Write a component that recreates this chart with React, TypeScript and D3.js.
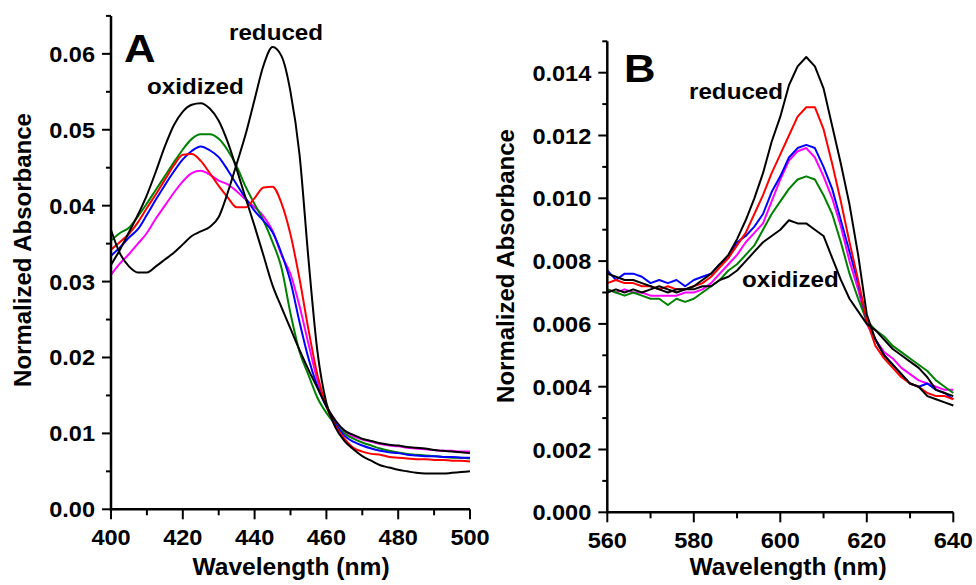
import React from 'react';
import * as d3 from 'd3';

// ---------- Panel A data (Soret region) ----------
const wavelengthA = [400, 402.5, 405, 407.5, 410, 412.5, 415, 417.5, 420, 422.5, 425, 427.5, 430, 432.5, 435, 437.5, 440, 442.5, 445, 447.5, 450, 452.5, 455, 457.5, 460, 462.5, 465, 467.5, 470, 472.5, 475, 477.5, 480, 482.5, 485, 487.5, 490, 492.5, 495, 497.5, 500];

const oxidizedA = [0.0322, 0.0342, 0.0365, 0.0388, 0.0414, 0.0445, 0.0478, 0.0506, 0.0524, 0.0533, 0.0535, 0.0528, 0.0512, 0.0484, 0.0448, 0.0410, 0.0373, 0.0334, 0.0295, 0.0266, 0.0238, 0.0210, 0.0184, 0.0160, 0.0136, 0.0117, 0.0104, 0.0098, 0.0093, 0.0090, 0.0087, 0.0085, 0.0084, 0.0082, 0.0081, 0.0080, 0.0078, 0.0077, 0.0076, 0.0075, 0.0074];
const reducedA = [0.0368, 0.0337, 0.0320, 0.0312, 0.0312, 0.0320, 0.0329, 0.0338, 0.0349, 0.0360, 0.0366, 0.0372, 0.0385, 0.0417, 0.0455, 0.0494, 0.0540, 0.0585, 0.0609, 0.0597, 0.0550, 0.0468, 0.0330, 0.0208, 0.0140, 0.0108, 0.0090, 0.0079, 0.0070, 0.0064, 0.0058, 0.0055, 0.0052, 0.0050, 0.0048, 0.0047, 0.0047, 0.0047, 0.0048, 0.0049, 0.0050];
const redA = [0.0342, 0.0352, 0.0363, 0.0378, 0.0397, 0.0415, 0.0434, 0.0453, 0.0467, 0.0468, 0.0459, 0.0443, 0.0426, 0.0411, 0.0398, 0.0398, 0.0410, 0.0424, 0.0425, 0.0403, 0.0362, 0.0304, 0.0237, 0.0177, 0.0136, 0.0110, 0.0093, 0.0081, 0.0076, 0.0073, 0.0072, 0.0069, 0.0068, 0.0067, 0.0066, 0.0066, 0.0065, 0.0065, 0.0064, 0.0064, 0.0063];
const greenA = [0.0354, 0.0364, 0.0371, 0.0386, 0.0403, 0.0421, 0.0439, 0.0457, 0.0474, 0.0488, 0.0494, 0.0494, 0.0488, 0.0473, 0.0452, 0.0425, 0.0402, 0.0380, 0.0352, 0.0318, 0.0258, 0.0208, 0.0177, 0.0147, 0.0127, 0.0112, 0.0100, 0.0093, 0.0088, 0.0084, 0.0080, 0.0077, 0.0075, 0.0073, 0.0072, 0.0071, 0.0070, 0.0069, 0.0068, 0.0068, 0.0067];
const blueA = [0.0334, 0.0345, 0.0358, 0.0369, 0.0388, 0.0408, 0.0427, 0.0445, 0.0461, 0.0472, 0.0478, 0.0473, 0.0464, 0.0447, 0.0428, 0.0410, 0.0393, 0.0380, 0.0365, 0.0337, 0.0300, 0.0247, 0.0199, 0.0162, 0.0135, 0.0113, 0.0097, 0.0089, 0.0084, 0.0080, 0.0077, 0.0075, 0.0074, 0.0072, 0.0071, 0.0070, 0.0070, 0.0069, 0.0069, 0.0068, 0.0068];
const magentaA = [0.0309, 0.0324, 0.0336, 0.0350, 0.0364, 0.0383, 0.0400, 0.0417, 0.0432, 0.0443, 0.0446, 0.0441, 0.0433, 0.0428, 0.0419, 0.0408, 0.0398, 0.0386, 0.0367, 0.0335, 0.0310, 0.0268, 0.0218, 0.0170, 0.0136, 0.0117, 0.0103, 0.0096, 0.0092, 0.0089, 0.0086, 0.0084, 0.0083, 0.0081, 0.0080, 0.0079, 0.0078, 0.0077, 0.0077, 0.0076, 0.0076];

// ---------- Panel B data (alpha region) ----------
const wavelengthB = [560, 562, 564, 566, 568, 570, 572, 574, 576, 578, 580, 582, 584, 586, 588, 590, 592, 594, 596, 598, 600, 602, 604, 606, 608, 610, 612, 614, 616, 618, 620, 622, 624, 626, 628, 630, 632, 634, 636, 638, 640];

const reducedB = [0.0076, 0.0075, 0.0074, 0.0074, 0.0073, 0.0072, 0.0071, 0.0070, 0.0071, 0.0071, 0.0072, 0.0074, 0.0076, 0.0079, 0.0082, 0.0087, 0.0093, 0.0100, 0.0108, 0.0118, 0.0126, 0.0136, 0.0142, 0.0145, 0.0142, 0.0135, 0.0123, 0.0111, 0.0098, 0.0082, 0.0063, 0.0055, 0.0050, 0.0047, 0.0044, 0.0041, 0.0040, 0.0037, 0.0036, 0.0035, 0.0034];
const oxidizedB = [0.0070, 0.0071, 0.0070, 0.0071, 0.0070, 0.0071, 0.0072, 0.0071, 0.0070, 0.0071, 0.0071, 0.0072, 0.0072, 0.0074, 0.0075, 0.0077, 0.0080, 0.0083, 0.0086, 0.0088, 0.0090, 0.0093, 0.0092, 0.0092, 0.0090, 0.0088, 0.0081, 0.0074, 0.0068, 0.0064, 0.0060, 0.0058, 0.0055, 0.0052, 0.0050, 0.0048, 0.0046, 0.0043, 0.0039, 0.0038, 0.0037];
const redB = [0.0073, 0.0074, 0.0073, 0.0073, 0.0072, 0.0072, 0.0071, 0.0072, 0.0071, 0.0071, 0.0072, 0.0073, 0.0075, 0.0078, 0.0081, 0.0085, 0.0089, 0.0095, 0.0101, 0.0108, 0.0114, 0.0120, 0.0126, 0.0129, 0.0129, 0.0122, 0.0111, 0.0099, 0.0086, 0.0074, 0.0061, 0.0053, 0.0049, 0.0046, 0.0043, 0.0041, 0.0040, 0.0038, 0.0037, 0.0037, 0.0036];
const blueB = [0.0077, 0.0074, 0.0076, 0.0076, 0.0075, 0.0073, 0.0074, 0.0073, 0.0074, 0.0072, 0.0074, 0.0075, 0.0076, 0.0079, 0.0081, 0.0086, 0.0088, 0.0091, 0.0095, 0.0102, 0.0107, 0.0113, 0.0116, 0.0117, 0.0116, 0.0110, 0.0103, 0.0093, 0.0083, 0.0073, 0.0061, 0.0055, 0.0050, 0.0047, 0.0044, 0.0041, 0.0040, 0.0041, 0.0039, 0.0038, 0.0036];
const magentaB = [0.0071, 0.0070, 0.0071, 0.0070, 0.0070, 0.0069, 0.0069, 0.0069, 0.0069, 0.0070, 0.0070, 0.0071, 0.0073, 0.0076, 0.0079, 0.0082, 0.0086, 0.0089, 0.0092, 0.0099, 0.0106, 0.0112, 0.0115, 0.0116, 0.0113, 0.0107, 0.0100, 0.0091, 0.0080, 0.0071, 0.0060, 0.0055, 0.0051, 0.0049, 0.0046, 0.0044, 0.0042, 0.0041, 0.0040, 0.0039, 0.0039];
const greenB = [0.0071, 0.0070, 0.0069, 0.0070, 0.0069, 0.0068, 0.0068, 0.0066, 0.0068, 0.0067, 0.0068, 0.0070, 0.0072, 0.0074, 0.0077, 0.0079, 0.0082, 0.0085, 0.0090, 0.0095, 0.0099, 0.0103, 0.0106, 0.0107, 0.0106, 0.0101, 0.0095, 0.0086, 0.0076, 0.0068, 0.0061, 0.0058, 0.0056, 0.0053, 0.0051, 0.0049, 0.0047, 0.0045, 0.0042, 0.0040, 0.0038];

// ---------- Ticks ----------
const xTicksA = [400, 420, 440, 460, 480, 500];
const xMinorA = [410, 430, 450, 470, 490];
const yTicksA = [0, 0.01, 0.02, 0.03, 0.04, 0.05, 0.06];
const yMinorA = [0.005, 0.015, 0.025, 0.035, 0.045, 0.055, 0.065];

const xTicksB = [560, 580, 600, 620, 640];
const xMinorB = [570, 590, 610, 630];
const yTicksB = [0, 0.002, 0.004, 0.006, 0.008, 0.010, 0.012, 0.014];
const yMinorB = [0.001, 0.003, 0.005, 0.007, 0.009, 0.011, 0.013, 0.015];

const FONT = '"Liberation Sans", Arial, Helvetica, sans-serif';

type Series = { values: number[]; color: string };

function T({ x, y, size, anchor = 'start', sx = 1.07, children }: any) {
  return (
    <text
      transform={`translate(${x},${y}) scale(${sx},1)`}
      textAnchor={anchor}
      fontFamily={FONT}
      fontWeight="bold"
      fontSize={size}
      fill="#000"
    >
      {children}
    </text>
  );
}

function Panel(props: any) {
  const {
    wl, series, xDomain, xRange, yDomain, yRange, xTicks, xMinor, yTicks, yMinor, yFmt,
    curve, xTitleX, yTitleX, yTitleY, letter, annotations,
  } = props;
  const x = d3.scaleLinear().domain(xDomain).range(xRange);
  const y = d3.scaleLinear().domain(yDomain).range(yRange);
  const fmt = d3.format(yFmt);
  const line = d3
    .line<number>()
    .x((_, i) => x(wl[i]))
    .y((d) => y(d))
    .curve(curve);
  const x0 = xRange[0];
  const y0 = yRange[0];
  return (
    <g>
      {series.map((s: Series, i: number) => (
        <path key={i} d={line(s.values) || ''} fill="none" stroke={s.color} strokeWidth={2} strokeLinejoin="round" />
      ))}
      {/* axes */}
      <line x1={x0} x2={x0} y1={y0 + 1.2} y2={yRange[1]} stroke="#000" strokeWidth={2.5} />
      <line x1={x0 - 1.2} x2={xRange[1]} y1={y0} y2={y0} stroke="#000" strokeWidth={2.5} />
      {yTicks.map((t: number) => (
        <g key={'yt' + t}>
          <line x1={x0 - 9} x2={x0} y1={y(t)} y2={y(t)} stroke="#000" strokeWidth={2} />
          <T x={x0 - 16} y={y(t) + 8} size={22} anchor="end">{fmt(t)}</T>
        </g>
      ))}
      {yMinor.map((t: number) => (
        <line key={'ym' + t} x1={x0 - 5} x2={x0} y1={y(t)} y2={y(t)} stroke="#000" strokeWidth={2} />
      ))}
      {xTicks.map((t: number) => (
        <g key={'xt' + t}>
          <line x1={x(t)} x2={x(t)} y1={y0} y2={y0 + 10} stroke="#000" strokeWidth={2} />
          <T x={x(t)} y={y0 + 36} size={22} anchor="middle">{t}</T>
        </g>
      ))}
      {xMinor.map((t: number) => (
        <line key={'xm' + t} x1={x(t)} x2={x(t)} y1={y0} y2={y0 + 6} stroke="#000" strokeWidth={2} />
      ))}
      <T x={xTitleX} y={575} size={23} anchor="middle">Wavelength (nm)</T>
      <text
        transform={`translate(${yTitleX},${yTitleY}) rotate(-90)`}
        textAnchor="middle"
        fontFamily={FONT}
        fontWeight="bold"
        fontSize={24}
      >
        Normalized Absorbance
      </text>
      <T x={letter.x} y={letter.y} size={39} sx={1.12}>{letter.text}</T>
      {annotations.map((a: any) => (
        <T key={a.text} x={a.x} y={a.y} size={22} sx={1.1}>{a.text}</T>
      ))}
    </g>
  );
}

export default function App() {
  const seriesA: Series[] = [
    { values: magentaA, color: '#ff00ff' },
    { values: greenA, color: '#008000' },
    { values: blueA, color: '#0000ff' },
    { values: redA, color: '#ff0000' },
    { values: oxidizedA, color: '#000000' },
    { values: reducedA, color: '#000000' },
  ];
  const seriesB: Series[] = [
    { values: magentaB, color: '#ff00ff' },
    { values: greenB, color: '#008000' },
    { values: blueB, color: '#0000ff' },
    { values: redB, color: '#ff0000' },
    { values: oxidizedB, color: '#000000' },
    { values: reducedB, color: '#000000' },
  ];
  return (
    <svg
      width={976}
      height={585}
      style={{ position: 'absolute', left: 0, top: 0, background: '#fff' }}
    >
      <rect width={976} height={585} fill="#fff" />
      <Panel
        wl={wavelengthA}
        series={seriesA}
        xDomain={[400, 500]}
        xRange={[111, 470]}
        yDomain={[0, 0.065]}
        yRange={[509.3, 15.9]}
        xTicks={xTicksA}
        xMinor={xMinorA}
        yTicks={yTicksA}
        yMinor={yMinorA}
        yFmt=".2f"
        curve={d3.curveMonotoneX}
        xTitleX={291}
        yTitleX={31}
        yTitleY={250}
        letter={{ text: 'A', x: 124, y: 62 }}
        annotations={[
          { text: 'reduced', x: 229, y: 40 },
          { text: 'oxidized', x: 147, y: 94 },
        ]}
      />
      <Panel
        wl={wavelengthB}
        series={seriesB}
        xDomain={[560, 640]}
        xRange={[607.3, 953.3]}
        yDomain={[0, 0.015]}
        yRange={[512.3, 41.3]}
        xTicks={xTicksB}
        xMinor={xMinorB}
        yTicks={yTicksB}
        yMinor={yMinorB}
        yFmt=".3f"
        curve={d3.curveLinear}
        xTitleX={788}
        yTitleX={514}
        yTitleY={266}
        letter={{ text: 'B', x: 624, y: 82 }}
        annotations={[
          { text: 'reduced', x: 689, y: 99 },
          { text: 'oxidized', x: 742, y: 287 },
        ]}
      />
    </svg>
  );
}
